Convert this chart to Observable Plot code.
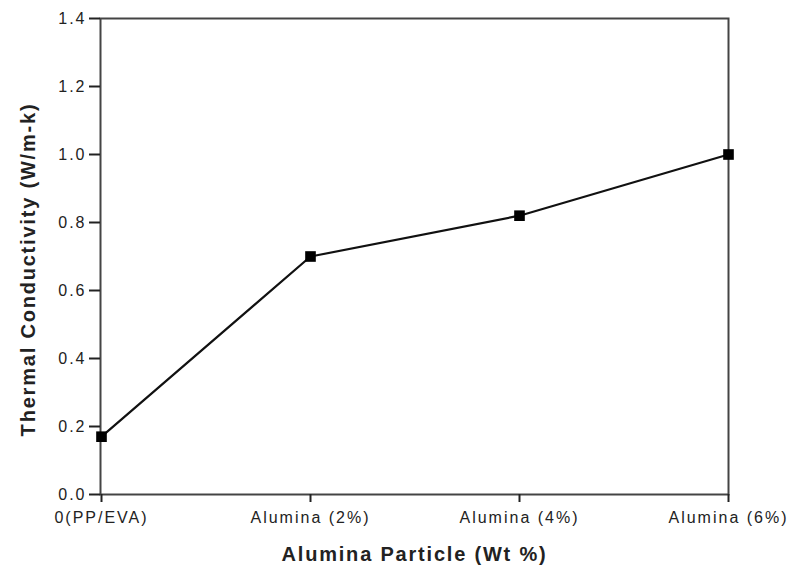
<!DOCTYPE html>
<html>
<head>
<meta charset="utf-8">
<script src="https://cdn.jsdelivr.net/npm/d3@7"></script>
<script src="https://cdn.jsdelivr.net/npm/@observablehq/plot@0.6"></script>
<style>
  body { margin: 0; background: #fff; }
  svg { font-family: "Liberation Sans", Arial, sans-serif; }
  g[aria-label="x-axis tick label"] text, g[aria-label="y-axis tick label"] text { font-size: 16px; letter-spacing: 2px; }
  g[aria-label="x-axis label"] text { font-weight: bold; font-size: 20px; letter-spacing: 1.8px; }
  g[aria-label="text"] text { letter-spacing: 1.8px; }
</style>
</head>
<body>
<div id="chart"></div>
<script>
const categories = ["0(PP/EVA)", "Alumina (2%)", "Alumina (4%)", "Alumina (6%)"];
const conductivity = [0.17, 0.70, 0.82, 1.00];
const yTicks = [0.0, 0.2, 0.4, 0.6, 0.8, 1.0, 1.2, 1.4];
const xTitle = "Alumina Particle (Wt %)";
const yTitle = "Thermal Conductivity (W/m-k)";

const data = categories.map((c, i) => ({cat: c, val: conductivity[i]}));

const chart = Plot.plot({
  width: 793,
  height: 568,
  marginLeft: 100,
  marginRight: 65,
  marginTop: 18,
  marginBottom: 74,
  style: {fontSize: "16px", color: "#222", background: "#fff"},
  x: {type: "point", domain: categories, padding: 0},
  y: {domain: [0, 1.4]},
  marks: [
    Plot.frame({stroke: "#444", strokeWidth: 2}),
    Plot.axisY({ticks: yTicks, tickFormat: d => d.toFixed(1), tickSize: 11, tickPadding: 3, strokeWidth: 2, label: null}),
    Plot.text([yTitle], {frameAnchor: "left", rotate: -90, dx: -72, dy: 13, textAnchor: "middle", lineAnchor: "middle",
      fontWeight: "bold", fontSize: 20, fill: "#222"}),
    Plot.axisX({tickSize: 8, tickPadding: 9, strokeWidth: 2,
      label: xTitle, labelAnchor: "center", labelArrow: "none", labelOffset: 66}),
    Plot.line(data, {x: "cat", y: "val", stroke: "#111", strokeWidth: 2.2}),
    Plot.dot(data, {x: "cat", y: "val", symbol: "square", r: 6, fill: "#000", stroke: "none"})
  ]
});
document.getElementById("chart").appendChild(chart);
</script>
</body>
</html>
